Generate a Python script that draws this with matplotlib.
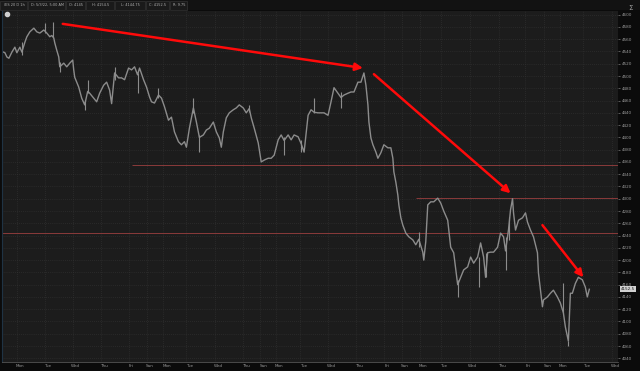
import matplotlib
matplotlib.use("Agg")
import matplotlib.pyplot as plt
import numpy as np

# /ES 1h, 20 days - time axis in chart units (hours, roughly), close prices
t = [0, 3, 5, 7, 10, 13, 15, 18, 20, 23, 25, 28, 30, 32, 35, 38, 42, 45, 48, 50,
     52, 53, 55, 57, 58, 62, 65, 68, 71, 72, 73, 77, 80, 83, 86, 88, 92, 95, 98, 102,
     105, 108, 110, 113, 117, 120, 123, 127, 130, 133, 136, 138, 142, 145, 148, 150, 153, 157, 160, 163,
     167, 170, 173, 177, 180, 183, 185, 188, 192, 195, 198, 202, 205, 208, 212, 215, 218, 220, 222, 225,
     228, 232, 235, 238, 242, 245, 248, 250, 253, 257, 260, 263, 267, 270, 273, 277, 280, 283, 287, 290,
     293, 297, 300, 303, 307, 310, 313, 317, 320, 323, 327, 330, 333, 337, 340, 343, 347, 350, 353, 357,
     360, 363, 365, 367, 368, 370, 372, 375, 377, 380, 383, 387, 390, 392, 393, 395, 397, 398, 400, 402,
     405, 408, 412, 415, 418, 422, 423, 425, 427, 430, 433, 437, 440, 443, 447, 450, 453, 457, 460, 463,
     467, 470, 473, 477, 480, 483, 485, 487, 490, 493, 497, 500, 503, 505, 508, 510, 512, 513, 515, 518,
     522, 525, 527, 530, 533, 537, 538, 540, 542, 543, 547, 550, 553, 557, 560, 563, 565, 568, 570, 572,
     575, 578, 582, 585, 587, 589]
close = [4540, 4538, 4531, 4529, 4539, 4547, 4538, 4547, 4539, 4555, 4564, 4572, 4575, 4578, 4572, 4570, 4575, 4570, 4564, 4566,
         4562, 4554, 4542, 4531, 4515, 4521, 4515, 4521, 4526, 4510, 4498, 4482, 4464, 4453, 4475, 4472, 4464, 4458, 4472, 4485,
         4490, 4477, 4455, 4505, 4497, 4497, 4494, 4513, 4510, 4515, 4502, 4513, 4494, 4482, 4466, 4458, 4456, 4469, 4464, 4450,
         4428, 4433, 4409, 4393, 4388, 4393, 4384, 4415, 4448, 4425, 4400, 4404, 4412, 4415, 4425, 4409, 4399, 4384, 4409, 4432,
         4440, 4445, 4448, 4453, 4448, 4440, 4447, 4432, 4415, 4391, 4360, 4363, 4366, 4366, 4371, 4396, 4404, 4395, 4404, 4396,
         4404, 4401, 4390, 4376, 4436, 4445, 4441, 4440, 4440, 4440, 4436, 4458, 4481, 4472, 4465, 4469, 4472, 4474, 4474, 4490,
         4490, 4505, 4485, 4453, 4425, 4399, 4388, 4376, 4366, 4375, 4388, 4383, 4383, 4366, 4344, 4327, 4306, 4290, 4269, 4257,
         4244, 4238, 4233, 4225, 4234, 4213, 4200, 4230, 4290, 4295, 4295, 4301, 4293, 4280, 4265, 4221, 4212, 4160, 4172, 4184,
         4189, 4205, 4195, 4205, 4228, 4205, 4172, 4212, 4213, 4213, 4221, 4244, 4238, 4215, 4250, 4282, 4300, 4277, 4249, 4265,
         4269, 4277, 4262, 4249, 4238, 4212, 4179, 4151, 4124, 4135, 4140, 4146, 4151, 4140, 4130, 4114, 4091, 4068, 4146, 4146,
         4162, 4172, 4168, 4156, 4140, 4152.5]

# wicks (time, high, low)
wick_t = [20, 43, 51, 58, 83, 86, 113, 136, 157, 192, 198, 248, 283, 300, 313, 340, 418, 457, 478, 485, 505, 508, 563, 568]
wick_hi = [4555, 4586, 4588, 4523, 4461, 4494, 4515, 4505, 4481, 4464, 4404, 4453, 4401, 4396, 4464, 4474, 4246, 4168, 4205, 4212, 4238, 4270, 4162, 4068]
wick_lo = [4534, 4570, 4562, 4507, 4445, 4472, 4494, 4472, 4464, 4440, 4376, 4441, 4371, 4376, 4440, 4448, 4221, 4140, 4156, 4172, 4184, 4233, 4114, 4060]

# horizontal levels (price, start time)
levels = [4355, 4302, 4244]
level_start = [130, 415, 0]

# red arrows (t0, p0, t1, p1)
arrows = [(61, 4585, 362, 4513), (373, 4503, 510, 4309), (542, 4257, 583, 4172)]

day_pos = [18, 46, 74, 102, 130, 148, 165, 188, 217, 245, 262, 278, 302, 330, 358,
           386, 404, 422, 443, 472, 501, 528, 547, 563, 586, 615]
day_lab = ['Mon', 'Tue', 'Wed', 'Thu', 'Fri', 'Sun', 'Mon', 'Tue', 'Wed', 'Thu', 'Sun', 'Mon', 'Tue', 'Wed', 'Thu',
           'Fri', 'Sun', 'Mon', 'Tue', 'Wed', 'Thu', 'Fri', 'Sun', 'Mon', 'Tue', 'Wed']

header = ['/ES 20 D 1h', 'D: 5/3/22, 5:00 AM', 'O: 4145', 'H: 4154.5', 'L: 4144.75', 'C: 4152.5', 'R: 9.75']
header_edges = [0, 28, 66, 86, 115, 146, 170, 188]
last_price = 4152.5

fig = plt.figure(figsize=(6.4, 3.71), dpi=100, facecolor='#0b0b0b')
ax = fig.add_axes([0.003, 0.0243, 0.963, 0.9461])
ax.set_facecolor('#1c1c1c')
ax.set_xlim(0, 618)
ax.set_ylim(4034, 4606)

# grid
yticks = np.arange(4040, 4601, 20)
for y in yticks:
    ax.axhline(y, color='#363636', lw=0.5, ls=(0, (1, 2)), zorder=0)
for x in day_pos:
    ax.axvline(x - 3, color='#363636', lw=0.5, ls=(0, (1, 2)), zorder=0)

# price
ax.vlines(wick_t, wick_lo, wick_hi, color='#8c8c8c', lw=0.8, zorder=2)
ax.plot(t, close, color='#8c8c8c', lw=1.0, zorder=2)

# levels
for lv, s in zip(levels, level_start):
    ax.hlines(lv, s, 618, color='#8a3a3a', lw=0.7, zorder=1)

# arrows
for t0, p0, t1, p1 in arrows:
    ax.annotate('', xy=(t1, p1), xytext=(t0, p0),
                arrowprops=dict(arrowstyle='-|>', color='#ff0a0a', lw=1.8,
                                mutation_scale=11, shrinkA=0, shrinkB=0), zorder=5)

# axes
ax.yaxis.tick_right()
ax.set_yticks(yticks)
ax.set_yticklabels([str(v) for v in yticks])
ax.tick_params(axis='y', labelsize=3, colors='#9a9a9a', length=1.5, pad=1, width=0.4)
ax.set_xticks(day_pos)
ax.set_xticklabels(day_lab)
ax.tick_params(axis='x', labelsize=3, colors='#9a9a9a', length=0, pad=1.5)
for sp in ['top', 'right']:
    ax.spines[sp].set_visible(False)
ax.spines['bottom'].set_color('#555555')
ax.spines['bottom'].set_linewidth(0.6)
ax.spines['left'].set_color('#1f3344')
ax.spines['left'].set_linewidth(0.8)

# last price box
ax.text(1.004, last_price, f'{last_price}', transform=ax.get_yaxis_transform(),
        fontsize=3, color='#1c1c1c', va='center', ha='left', zorder=6,
        bbox=dict(boxstyle='square,pad=0.25', facecolor='#d0d0d0', edgecolor='none'))

# header
fig.patches.append(plt.Rectangle((0, 0.972), 1, 0.028, transform=fig.transFigure,
                                 facecolor='#121212', edgecolor='none'))
for i, s in enumerate(header):
    x0, x1 = header_edges[i], header_edges[i + 1]
    fig.patches.append(plt.Rectangle((x0 / 640, 1 - 10 / 371), (x1 - x0 - 1) / 640, 9 / 371,
                                     transform=fig.transFigure, facecolor='#1a1a1a',
                                     edgecolor='#3a3a3a', lw=0.4))
    fig.text((x0 + x1) / 2 / 640, 1 - 5.5 / 371, s, fontsize=2.5, color='#b0b0b0',
             va='center', ha='center')
fig.text(630 / 640, 1 - 8 / 371, 'Σ', fontsize=5, color='#9a9a9a', va='center', ha='center')
ax.plot([0.009], [0.99], marker='o', ms=3, color='#cfcfcf', transform=ax.transAxes, clip_on=False)

fig.savefig('out.png', dpi=100, facecolor=fig.get_facecolor())
